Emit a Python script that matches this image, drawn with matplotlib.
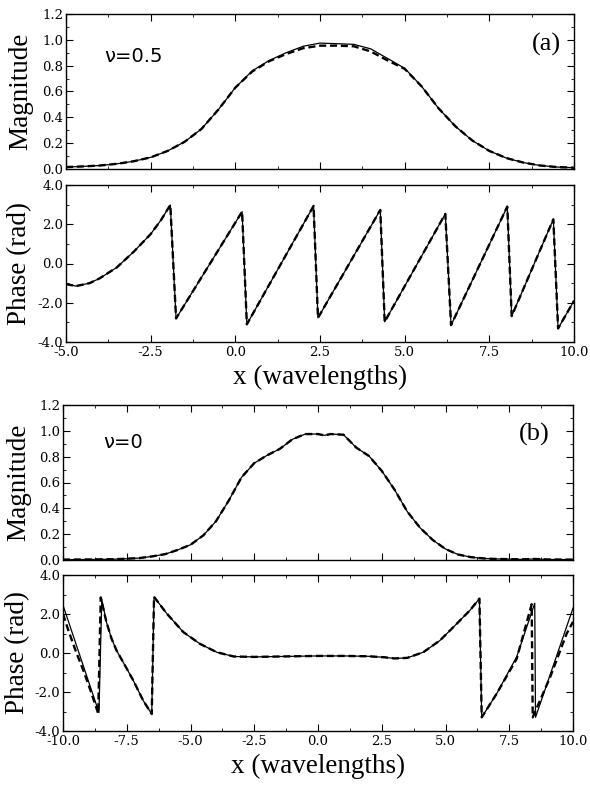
import matplotlib
matplotlib.use("Agg")
import matplotlib.pyplot as plt
from matplotlib.ticker import MultipleLocator, FormatStrFormatter

plt.rcParams['axes.unicode_minus'] = False

# ---------------- data ----------------
# (a) nu = 0.5
xa_mag = [-5, -4.5, -4, -3.5, -3, -2.5, -2, -1.5, -1, -0.5, 0, 0.5, 1, 1.5, 2, 2.5, 3,
          3.5, 4, 4.5, 5, 5.5, 6, 6.5, 7, 7.5, 8, 8.5, 9, 9.5, 10]
ya_mag_solid = [0.015, 0.02, 0.027, 0.04, 0.06, 0.09, 0.14, 0.21, 0.31, 0.46, 0.63, 0.76,
                0.84, 0.9, 0.95, 0.975, 0.97, 0.965, 0.93, 0.855, 0.78, 0.64, 0.47, 0.33,
                0.22, 0.14, 0.085, 0.05, 0.027, 0.015, 0.01]
ya_mag_dash = [0.015, 0.02, 0.027, 0.04, 0.06, 0.09, 0.14, 0.21, 0.31, 0.46, 0.63, 0.755,
               0.835, 0.89, 0.935, 0.955, 0.955, 0.95, 0.91, 0.84, 0.775, 0.64, 0.47, 0.33,
               0.22, 0.14, 0.085, 0.05, 0.027, 0.015, 0.01]

xa_ph = [-5.0, -4.7, -4.3, -4.0, -3.5, -3.0, -2.5, -2.2, -1.92, -1.75, 0.2, 0.34, 2.31,
         2.44, 4.28, 4.41, 6.2, 6.37, 8.03, 8.16, 9.39, 9.53, 10.0]
ya_ph_solid = [-1.05, -1.15, -1.0, -0.75, -0.2, 0.6, 1.5, 2.2, 2.98, -2.8, 2.64, -3.1, 2.93,
               -2.77, 2.73, -2.97, 2.53, -3.14, 2.9, -2.68, 2.25, -3.31, -1.9]
ya_ph_dash = ya_ph_solid

# (b) nu = 0
xb_mag = [-10, -9, -8, -7.5, -7, -6.5, -6, -5.5, -5, -4.5, -4, -3.5, -3, -2.5, -2, -1.5,
          -1, -0.5, 0, 0.25, 0.5, 1, 1.5, 2, 2.5, 3, 3.5, 4, 4.5, 5, 5.5, 6, 6.5, 7, 8,
          8.5, 9, 10]
yb_mag_solid = [0.003, 0.004, 0.006, 0.01, 0.015, 0.028, 0.045, 0.078, 0.118, 0.19, 0.3,
                0.46, 0.64, 0.75, 0.81, 0.86, 0.935, 0.975, 0.975, 0.965, 0.975, 0.97,
                0.87, 0.805, 0.69, 0.545, 0.375, 0.25, 0.155, 0.085, 0.042, 0.022, 0.012,
                0.008, 0.005, 0.008, 0.004, 0.003]
yb_mag_dash = yb_mag_solid

xb_ph_solid = [-10, -8.59, -8.48, -8.3, -8.1, -7.9, -7.5, -7.24, -6.85, -6.52, -6.43, -5.93,
               -5.28, -4.63, -3.97, -3.3, -2.5, -1.0, 0, 1.0, 2.0, 2.6, 3.0, 3.5, 4.13,
               4.78, 5.44, 5.96, 6.33, 6.42, 7.0, 7.79, 8.5, 8.53, 10]
yb_ph_solid = [2.45, -3.05, 2.75, 1.6, 0.75, 0.13, -0.8, -1.42, -2.45, -3.13, 2.88, 2.02,
               1.07, 0.47, 0.04, -0.18, -0.2, -0.17, -0.15, -0.15, -0.17, -0.22, -0.28,
               -0.25, 0.04, 0.64, 1.5, 2.19, 2.79, -3.3, -2.1, -0.2, 2.55, -3.3, 2.3]

xb_ph_dash = [-10, -9.8, -9.5, -9.2, -8.9, -8.62, -8.52, -8.3, -8.1, -7.9, -7.5, -7.24,
              -6.85, -6.52, -6.43, -5.93, -5.28, -4.63, -3.97, -3.3, -2.5, -1.0, 0, 1.0,
              2.0, 2.6, 3.0, 3.5, 4.13, 4.78, 5.44, 5.96, 6.33, 6.42, 7.0, 7.79, 8.38,
              8.42, 9.1, 9.75, 10]
yb_ph_dash = [2.0, 1.2, 0.1, -0.9, -2.0, -3.1, 2.85, 1.6, 0.75, 0.13, -0.8, -1.42, -2.45,
              -3.13, 2.88, 2.02, 1.07, 0.47, 0.04, -0.18, -0.2, -0.17, -0.15, -0.15, -0.17,
              -0.22, -0.28, -0.25, 0.04, 0.64, 1.5, 2.19, 2.79, -3.3, -2.1, -0.3, 2.5,
              -3.3, -1.25, 0.99, 1.6]

# ---------------- figure ----------------
W, H = 590, 785
fig = plt.figure(figsize=(W / 100, H / 100), dpi=100)


def frac_axes(l, r, t, b):
    return fig.add_axes([l / W, 1 - b / H, (r - l) / W, (b - t) / H])


labfont = dict(family='Liberation Serif', size=19.5)


def style(ax, xlim, ylim, ymaj, ymin, xlabels=True):
    ax.set_xlim(*xlim)
    ax.set_ylim(*ylim)
    ax.xaxis.set_major_locator(MultipleLocator(2.5))
    ax.xaxis.set_minor_locator(MultipleLocator(1.25))
    ax.yaxis.set_major_locator(MultipleLocator(ymaj))
    ax.yaxis.set_minor_locator(MultipleLocator(ymin))
    ax.yaxis.set_major_formatter(FormatStrFormatter('%.1f'))
    ax.xaxis.set_major_formatter(FormatStrFormatter('%.1f'))
    ax.tick_params(which='both', direction='in', top=True, right=True)
    ax.tick_params(which='major', length=5, width=0.8)
    ax.tick_params(which='minor', length=2.5, width=0.6)
    ax.tick_params(axis='y', pad=2)
    ax.tick_params(axis='x', pad=3)
    if not xlabels:
        ax.tick_params(axis='x', labelbottom=False)
    for lab in ax.get_xticklabels() + ax.get_yticklabels():
        lab.set_fontfamily('DejaVu Serif')
        lab.set_fontsize(9.5)
    for s in ax.spines.values():
        s.set_linewidth(1.0)


solid_kw = dict(color='black', lw=0.9)
dash_kw = dict(color='black', lw=1.7, dashes=(3, 1.6))
xlab_kw = dict(family='Liberation Serif', size=19.5, labelpad=4)

# (a) magnitude
ax1 = frac_axes(66, 574, 14, 169)
ax1.plot(xa_mag, ya_mag_solid, **solid_kw)
ax1.plot(xa_mag, ya_mag_dash, **dash_kw)
style(ax1, (-5, 10), (0, 1.2), 0.2, 0.1, xlabels=False)
ax1.set_ylabel('Magnitude', **labfont)

# (a) phase
ax2 = frac_axes(66, 574, 185, 342)
ax2.plot(xa_ph, ya_ph_solid, **solid_kw)
ax2.plot(xa_ph, ya_ph_dash, **dash_kw)
style(ax2, (-5, 10), (-4, 4), 2.0, 1.0)
ax2.set_ylabel('Phase (rad)', **labfont)
ax2.set_xlabel('x (wavelengths)', **xlab_kw)

# (b) magnitude
ax3 = frac_axes(63, 573, 405, 560)
ax3.plot(xb_mag, yb_mag_solid, **solid_kw)
ax3.plot(xb_mag, yb_mag_dash, **dash_kw)
style(ax3, (-10, 10), (0, 1.2), 0.2, 0.1, xlabels=False)
ax3.set_ylabel('Magnitude', **labfont)

# (b) phase
ax4 = frac_axes(63, 573, 575, 731)
ax4.plot(xb_ph_solid, yb_ph_solid, **solid_kw)
ax4.plot(xb_ph_dash, yb_ph_dash, **dash_kw)
style(ax4, (-10, 10), (-4, 4), 2.0, 1.0)
ax4.set_ylabel('Phase (rad)', **labfont)
ax4.set_xlabel('x (wavelengths)', **xlab_kw)

ax1.yaxis.set_label_coords(-0.065, 0.5)
ax2.yaxis.set_label_coords(-0.067, 0.5)
ax3.yaxis.set_label_coords(-0.063, 0.5)
ax4.yaxis.set_label_coords(-0.065, 0.5)

# annotations
fig.text(133 / W, 1 - 56 / H, 'ν=0.5', family='DejaVu Sans', size=14, ha='center', va='center')
fig.text(546 / W, 1 - 44 / H, '(a)', family='Liberation Serif', size=19, ha='center', va='center')
fig.text(123 / W, 1 - 443 / H, 'ν=0', family='DejaVu Sans', size=14, ha='center', va='center')
fig.text(534 / W, 1 - 434 / H, '(b)', family='Liberation Serif', size=19, ha='center', va='center')

fig.savefig('out.png', dpi=100)
